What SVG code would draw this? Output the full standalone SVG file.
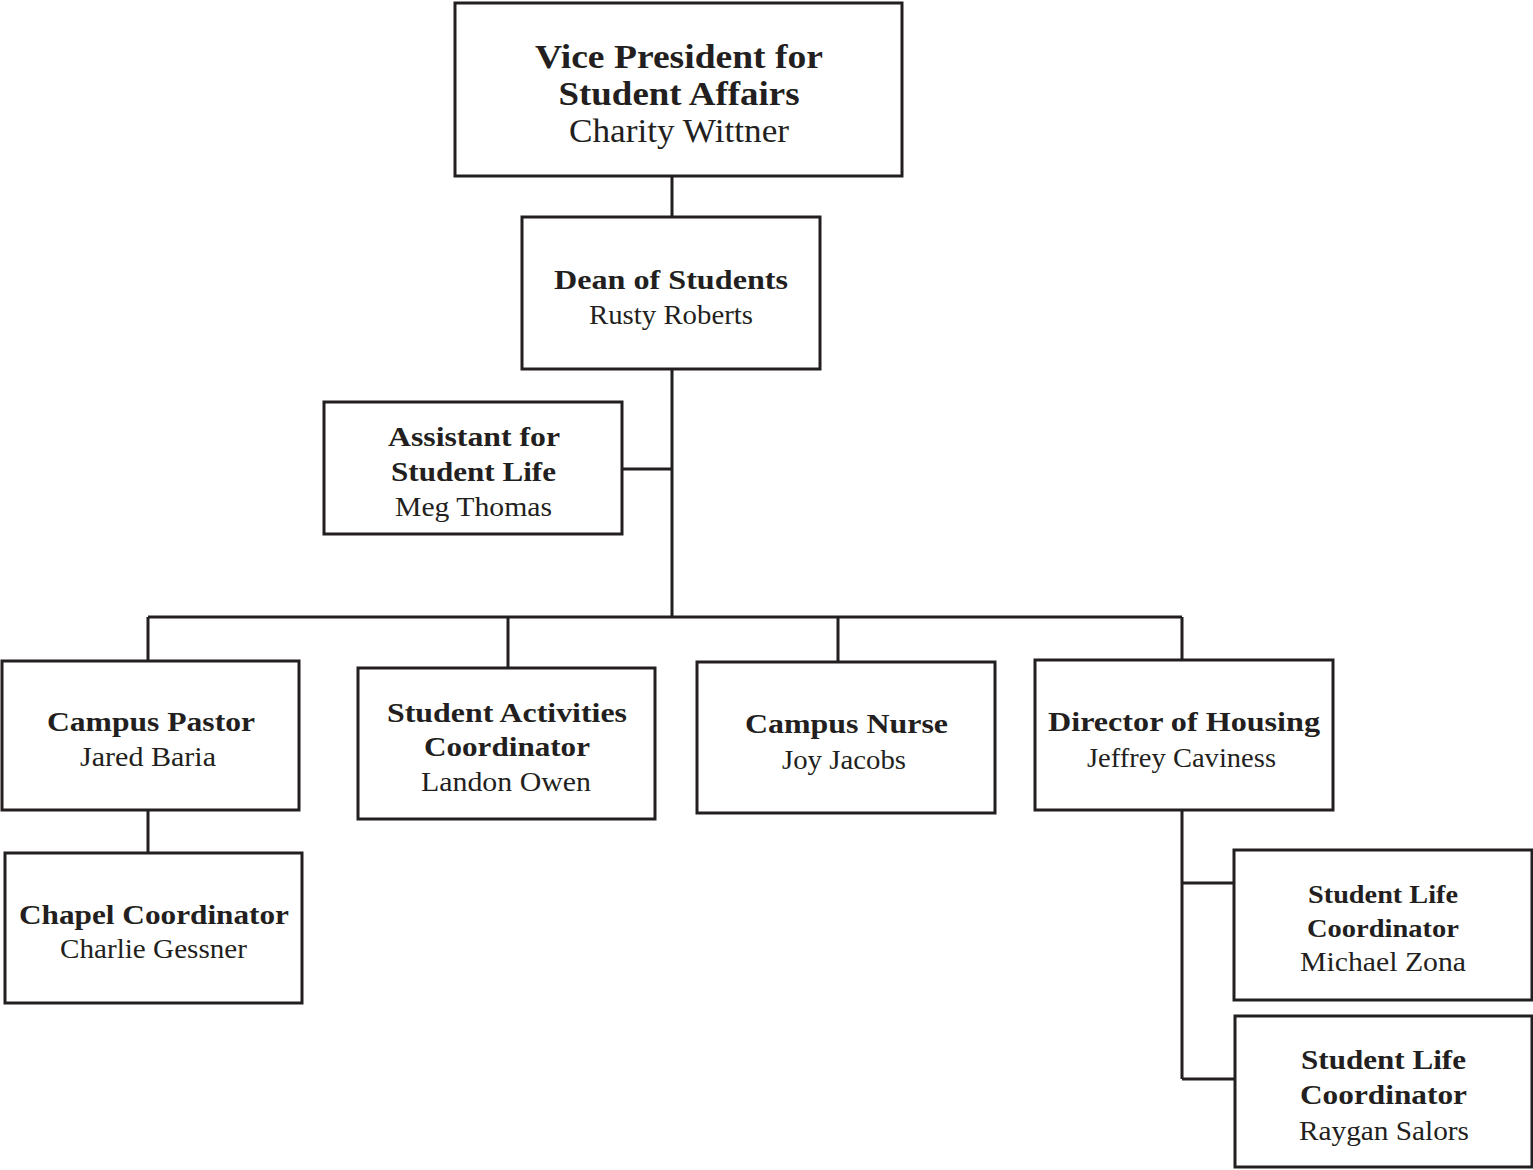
<svg xmlns="http://www.w3.org/2000/svg" width="1533" height="1170" viewBox="0 0 1533 1170">
<style>
.box{fill:#fff;stroke:#231f20;stroke-width:3}
.ln{fill:none;stroke:#231f20;stroke-width:3}
text{font-family:"Liberation Serif","Times New Roman",serif;fill:#231f20;text-anchor:middle}
.b{font-weight:bold;font-size:28px}
.r{font-size:28px}
.bl{font-weight:bold;font-size:34px}
.rl{font-size:33px}
.bs{font-weight:bold;font-size:25px}
</style>
<rect width="1533" height="1170" fill="#fff"/>
<g id="connectors">
<path class="ln" d="M672 176V217M672 369V617M622 469H672M148 617H1182M148 617V661M508 617V668M838 617V662M1182 617V660M148 810V853M1182 810V1079M1182 883H1234M1182 1079H1235"/>
</g>
<g id="vp"><rect class="box" x="455" y="3" width="447" height="173"/>
<text class="bl" x="679" y="68" textLength="288" lengthAdjust="spacingAndGlyphs">Vice President for</text>
<text class="bl" x="679" y="105" textLength="241" lengthAdjust="spacingAndGlyphs">Student Affairs</text>
<text class="rl" x="679" y="142" textLength="220" lengthAdjust="spacingAndGlyphs">Charity Wittner</text></g>
<g id="dean"><rect class="box" x="522" y="217" width="298" height="152"/>
<text class="b" x="671" y="289" textLength="234" lengthAdjust="spacingAndGlyphs">Dean of Students</text>
<text class="r" x="671" y="324" textLength="164" lengthAdjust="spacingAndGlyphs">Rusty Roberts</text></g>
<g id="assistant"><rect class="box" x="324" y="402" width="298" height="132"/>
<text class="b" x="474" y="446" textLength="172" lengthAdjust="spacingAndGlyphs">Assistant for</text>
<text class="b" x="473.5" y="481" textLength="165" lengthAdjust="spacingAndGlyphs">Student Life</text>
<text class="r" x="473.5" y="516" textLength="157" lengthAdjust="spacingAndGlyphs">Meg Thomas</text></g>
<g id="pastor"><rect class="box" x="2" y="661" width="297" height="149"/>
<text class="b" x="151" y="731" textLength="208" lengthAdjust="spacingAndGlyphs">Campus Pastor</text>
<text class="r" x="148" y="766" textLength="136" lengthAdjust="spacingAndGlyphs">Jared Baria</text></g>
<g id="activities"><rect class="box" x="358" y="668" width="297" height="151"/>
<text class="b" x="507" y="722" textLength="240" lengthAdjust="spacingAndGlyphs">Student Activities</text>
<text class="b" x="507" y="756" textLength="166" lengthAdjust="spacingAndGlyphs">Coordinator</text>
<text class="r" x="506" y="791" textLength="170" lengthAdjust="spacingAndGlyphs">Landon Owen</text></g>
<g id="nurse"><rect class="box" x="697" y="662" width="298" height="151"/>
<text class="b" x="846.5" y="733" textLength="203" lengthAdjust="spacingAndGlyphs">Campus Nurse</text>
<text class="r" x="844" y="769" textLength="124" lengthAdjust="spacingAndGlyphs">Joy Jacobs</text></g>
<g id="housing"><rect class="box" x="1035" y="660" width="298" height="150"/>
<text class="b" x="1184" y="731" textLength="272" lengthAdjust="spacingAndGlyphs">Director of Housing</text>
<text class="r" x="1181.5" y="767" textLength="189" lengthAdjust="spacingAndGlyphs">Jeffrey Caviness</text></g>
<g id="chapel"><rect class="box" x="5" y="853" width="297" height="150"/>
<text class="b" x="154" y="924" textLength="270" lengthAdjust="spacingAndGlyphs">Chapel Coordinator</text>
<text class="r" x="153.5" y="958" textLength="187" lengthAdjust="spacingAndGlyphs">Charlie Gessner</text></g>
<g id="slc1"><rect class="box" x="1234" y="850" width="298" height="150"/>
<text class="bs" x="1383" y="903" textLength="150" lengthAdjust="spacingAndGlyphs">Student Life</text>
<text class="bs" x="1383" y="937" textLength="152" lengthAdjust="spacingAndGlyphs">Coordinator</text>
<text class="r" x="1383" y="971" textLength="166" lengthAdjust="spacingAndGlyphs">Michael Zona</text></g>
<g id="slc2"><rect class="box" x="1235" y="1016" width="297" height="151"/>
<text class="b" x="1383.5" y="1069" textLength="165" lengthAdjust="spacingAndGlyphs">Student Life</text>
<text class="b" x="1383.5" y="1104" textLength="167" lengthAdjust="spacingAndGlyphs">Coordinator</text>
<text class="r" x="1384" y="1140" textLength="170" lengthAdjust="spacingAndGlyphs">Raygan Salors</text></g>
</svg>
